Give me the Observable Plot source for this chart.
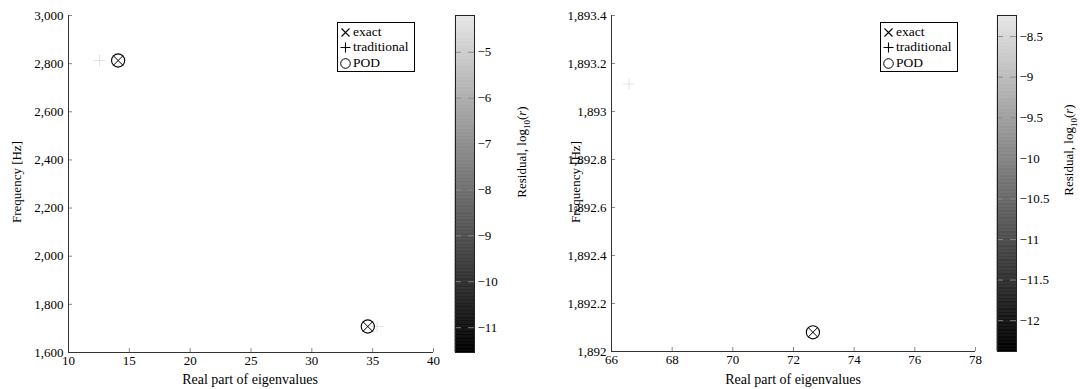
<!DOCTYPE html>
<html><head><meta charset="utf-8">
<script src="https://cdn.jsdelivr.net/npm/d3@7"></script>
<script src="https://cdn.jsdelivr.net/npm/@observablehq/plot@0.6"></script>
<style>
body{margin:0;background:#fff;}
#wrap{position:relative;width:1080px;height:389px;font-family:"Liberation Serif","DejaVu Serif","Times New Roman",Times,serif;color:#000;overflow:hidden;}
.abs{position:absolute;top:0;}
.abs svg{overflow:visible;}
.legend{position:absolute;border:1px solid #000;background:#fff;font-size:13.5px;line-height:15.3px;padding:1px 6px 1px 2px;white-space:nowrap;}
.legend svg{vertical-align:-2px;margin-right:2px;}
.lab{position:absolute;white-space:nowrap;font-size:14px;transform:translate(-50%,-50%);}
.vlab{position:absolute;white-space:nowrap;font-size:13px;transform:translate(-50%,-50%) rotate(-90deg);}
</style></head><body><div id="wrap"></div>
<script>
// ---------- data ----------
// left panel
const leftXTicks = [10, 15, 20, 25, 30, 35, 40];
const leftYTicks = [1600, 1800, 2000, 2200, 2400, 2600, 2800, 3000];
const leftCTicks = [-11, -10, -9, -8, -7, -6, -5];
const leftCRange = [-11.54, -4.2];
const leftExactX = [14.08, 34.6];
const leftExactY = [2813, 1708];
const leftTradX = [12.55, 35.37];
const leftTradY = [2813, 1708];
const leftTradRes = [-4.45, -4.45];
const leftPodX = [14.08, 34.6];
const leftPodY = [2813, 1708];
const leftPodRes = [-11.5, -11.5];
// right panel
const rightXTicks = [66, 68, 70, 72, 74, 76, 78];
const rightYTicks = [1892, 1892.2, 1892.4, 1892.6, 1892.8, 1893, 1893.2, 1893.4];
const rightCTicks = [-12, -11.5, -11, -10.5, -10, -9.5, -9, -8.5];
const rightCRange = [-12.38, -8.24];
const rightExactX = [72.64];
const rightExactY = [1892.08];
const rightTradX = [66.58];
const rightTradY = [1893.115];
const rightTradRes = [-8.3];
const rightPodX = [72.64];
const rightPodY = [1892.08];
const rightPodRes = [-12.3];

const FONT = "'Liberation Serif', 'DejaVu Serif', 'Times New Roman', Times, serif";
const GRAY = ["#000000", "#e6e6e6"];
const wrap = document.getElementById("wrap");

function place(node, left) {
  const d = document.createElement("div");
  d.className = "abs"; d.style.left = left + "px";
  d.appendChild(node); wrap.appendChild(d);
}
function html(cls, left, top, inner) {
  const d = document.createElement("div");
  d.className = cls; d.style.left = left + "px"; d.style.top = top + "px";
  d.innerHTML = inner; wrap.appendChild(d); return d;
}

function mainPanel(o) {
  const color = {type: "linear", domain: o.cRange, range: GRAY};
  const pts = (xs, ys, rs) => xs.map((x, i) => ({x, y: ys[i], r: rs ? rs[i] : null}));
  const exact = pts(o.exactX, o.exactY);
  const trad = pts(o.tradX, o.tradY, o.tradRes);
  const pod = pts(o.podX, o.podY, o.podRes);
  return Plot.plot({
    width: o.width, height: 389,
    marginLeft: o.ml, marginRight: o.mr, marginTop: 15, marginBottom: o.mb,
    style: {fontFamily: FONT, fontSize: "13px", color: "#000", background: "transparent", overflow: "visible"},
    x: {domain: [o.xTicks[0], o.xTicks[o.xTicks.length - 1]], label: null},
    y: {domain: [o.yTicks[0], o.yTicks[o.yTicks.length - 1]], label: null},
    color,
    marks: [
      Plot.axisX({ticks: o.xTicks, tickSize: -4, tickPadding: 7, stroke: "#888", tickFormat: d3.format(","), label: null}),
      Plot.axisY({ticks: o.yTicks, tickSize: -4, tickPadding: 9, stroke: "#888", tickFormat: d3.format(","), label: null}),
      Plot.ruleX([o.xTicks[0]], {stroke: "#333", strokeWidth: 1}),
      Plot.ruleY([o.yTicks[0]], {stroke: "#333", strokeWidth: 1}),
      Plot.dot(trad, {x: "x", y: "y", symbol: "plus", r: 3.9, stroke: "r", strokeWidth: 0.9}),
      Plot.dot(exact, {x: "x", y: "y", symbol: "times", r: 4.5, stroke: "#000", strokeWidth: 1}),
      Plot.dot(pod, {x: "x", y: "y", symbol: "circle", r: 6.6, stroke: "r", fill: "none", strokeWidth: 1.1})
    ]
  });
}

function colorBar(o) {
  const color = {type: "linear", domain: o.cRange, range: GRAY};
  const n = 240;
  const [lo, hi] = o.cRange;
  const slices = d3.range(n).map(i => {
    const a = lo + (hi - lo) * i / n, b = lo + (hi - lo) * (i + 1) / n;
    return {a, b, m: (a + b) / 2};
  });
  return Plot.plot({
    width: o.width, height: 389,
    marginLeft: 15, marginRight: o.width - 34, marginTop: 15, marginBottom: o.mb,
    style: {fontFamily: FONT, fontSize: "13px", color: "#000", background: "transparent", overflow: "visible"},
    y: {domain: o.cRange, label: null},
    color,
    marks: [
      Plot.rect(slices, {y1: "a", y2: "b", fill: "m", stroke: "m", strokeWidth: 0.6}),
      Plot.tickY(o.cTicks, {y: d => d, stroke: "#8a8a8a", strokeDasharray: "6,7", strokeWidth: 0.9}),
      Plot.frame({stroke: "#222", strokeWidth: 1}),
      Plot.axisY({anchor: "right", ticks: o.cTicks, tickSize: 0, tickPadding: 3, tickFormat: d3.format(""), label: null})
    ]
  });
}

// left panel
place(mainPanel({width: 450, ml: 68, mr: 17, mb: 37, xTicks: leftXTicks, yTicks: leftYTicks, cRange: leftCRange,
  exactX: leftExactX, exactY: leftExactY, tradX: leftTradX, tradY: leftTradY, tradRes: leftTradRes,
  podX: leftPodX, podY: leftPodY, podRes: leftPodRes}), 0);
place(colorBar({width: 90, mb: 37, cRange: leftCRange, cTicks: leftCTicks}), 440);

// right panel
place(mainPanel({width: 450, ml: 71, mr: 15, mb: 38, xTicks: rightXTicks, yTicks: rightYTicks, cRange: rightCRange,
  exactX: rightExactX, exactY: rightExactY, tradX: rightTradX, tradY: rightTradY, tradRes: rightTradRes,
  podX: rightPodX, podY: rightPodY, podRes: rightPodRes}), 540);
place(colorBar({width: 98, mb: 38, cRange: rightCRange, cTicks: rightCTicks}), 982);

// axis titles
html("lab", 250, 380, "Real part of eigenvalues");
html("lab", 793, 380, "Real part of eigenvalues");
html("vlab", 17, 182, "Frequency [Hz]");
html("vlab", 576, 182, "Frequency [Hz]");
const cbLab = "Residual, log<sub style='font-size:9px'>10</sub>(<i>r</i>)";
html("vlab", 523, 152, cbLab);
html("vlab", 1070, 150, cbLab);

// legends
const sym = {
  times: "<svg width='11' height='11' viewBox='-5.5 -5.5 11 11'><path d='M-4,-4L4,4M-4,4L4,-4' stroke='#000' stroke-width='1.1'/></svg>",
  plus: "<svg width='11' height='11' viewBox='-5.5 -5.5 11 11'><path d='M-5,0H5M0,-5V5' stroke='#000' stroke-width='1.1'/></svg>",
  circle: "<svg width='11' height='11' viewBox='-5.5 -5.5 11 11'><circle r='4.8' fill='none' stroke='#000' stroke-width='1'/></svg>"
};
const legInner = `<div>${sym.times}exact</div><div>${sym.plus}traditional</div><div>${sym.circle}POD</div>`;
html("legend", 337, 22, legInner);
html("legend", 880, 22, legInner);
</script></body></html>
